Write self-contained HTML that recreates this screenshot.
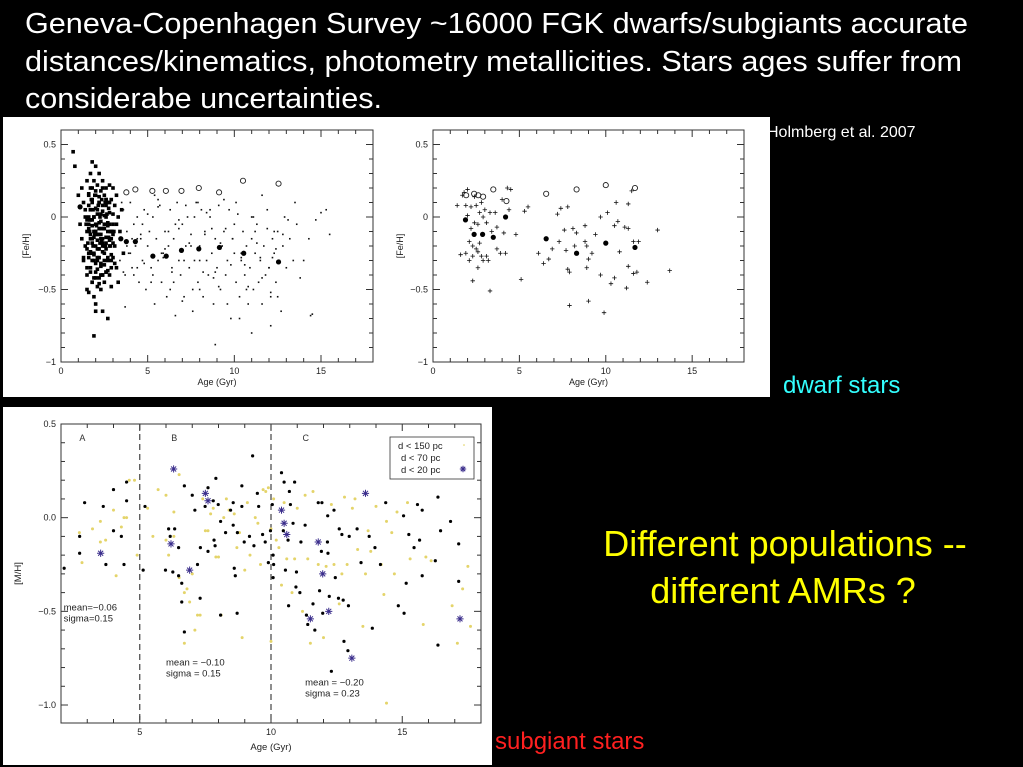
<!DOCTYPE html>
<html><head><meta charset="utf-8"><style>
html,body{margin:0;padding:0;background:#000;}
svg{display:block;}
text{font-family:"Liberation Sans",sans-serif;}
</style></head><body>
<svg id="slide" width="1023" height="767" viewBox="0 0 1023 767" xmlns="http://www.w3.org/2000/svg">
<rect x="0" y="0" width="1023" height="767" fill="#000"/>
<g fill="#fff" font-size="28.5">
<text x="25" y="33" textLength="943" lengthAdjust="spacingAndGlyphs">Geneva-Copenhagen Survey ~16000 FGK dwarfs/subgiants accurate</text>
<text x="25" y="71" textLength="937" lengthAdjust="spacingAndGlyphs">distances/kinematics, photometry metallicities. Stars ages suffer from</text>
<text x="25" y="108" textLength="357" lengthAdjust="spacingAndGlyphs">considerabe uncertainties.</text>
</g>
<rect x="3" y="117" width="767" height="280" fill="#fff"/>
<rect x="3" y="407" width="489" height="358" fill="#fff"/>
<text x="767" y="137" fill="#fff" font-size="16">Holmberg et al. 2007</text>
<text x="783" y="393" fill="#33ffff" font-size="24">dwarf stars</text>
<text x="495" y="749" fill="#ff2020" font-size="24">subgiant stars</text>
<g fill="#ffff00" font-size="36" text-anchor="middle">
<text x="785" y="556">Different populations --</text>
<text x="783" y="603">different AMRs ?</text>
</g>
<g id="p1"></g>
<g id="p2"></g>
<g id="p3"></g>
</svg>
<script>
// ---------- Panel 1 data (Age Gyr, [Fe/H]) ----------
const p1CloudAges = [1.0,1.1,1.2,1.2,1.3,1.3,1.4,1.4,1.5,1.5,1.5,1.6,1.6,1.6,1.6,1.7,1.7,1.7,1.7,1.7,1.8,1.8,1.8,1.8,1.8,1.9,1.9,1.9,1.9,1.9,2.0,2.0,2.0,2.0,2.0,2.0,2.1,2.1,2.1,2.1,2.1,2.2,2.2,2.2,2.2,2.2,2.3,2.3,2.3,2.3,2.3,2.4,2.4,2.4,2.4,2.5,2.5,2.5,2.5,2.6,2.6,2.6,2.6,2.7,2.7,2.7,2.8,2.8,2.8,2.9,2.9,2.9,3.0,3.0,3.0,3.1,3.1,3.2,3.2,3.3,3.3,3.4,3.5,3.6,1.6,1.8,2.0,2.2,2.4,2.6,1.7,1.9,2.1,2.3,2.5,0.8,0.7,1.9,2.0,2.4,2.7,1.5,1.3,2.6,2.9,
1.5,1.6,1.7,1.8,1.9,2.0,2.1,2.2,2.3,2.4,2.5,2.6,2.7,2.8,2.9,3.0,1.5,1.6,1.7,1.8,1.9,2.0,2.1,2.2,2.3,2.4,2.5,2.6,2.7,2.8,2.9,3.0,1.4,1.6,1.8,2.0,2.2,2.4,2.6,2.8,3.0,3.2,1.5,1.7,1.9,2.1,2.3,2.5,2.7,2.9,3.1,1.6,1.8,2.0,2.2,2.4,2.6,2.8,1.7,1.9,2.1,2.3,2.5,2.7,1.8,2.0,2.2,2.4,2.6,1.45,1.65,1.85,2.05,2.25,2.45,2.65,2.85,3.05,1.55,1.75,1.95,2.15,2.35,2.55,2.75,2.95,1.65,1.85,2.05,2.25,2.45,2.65,2.85,1.75,1.95,2.15,2.35,2.55,2.75];
const p1CloudFeh  = [0.15,-0.05,0.2,-0.15,0.1,-0.3,0.0,-0.2,0.25,-0.1,-0.4,0.15,-0.05,-0.25,-0.52,0.3,0.05,-0.12,-0.35,0.2,0.38,0.1,-0.02,-0.18,-0.45,0.25,0.0,-0.1,-0.3,-0.55,0.35,0.15,-0.05,-0.2,-0.38,-0.6,0.22,0.05,-0.12,-0.28,-0.48,0.3,0.1,-0.08,-0.22,-0.42,0.18,0.02,-0.15,-0.32,-0.5,0.25,0.08,-0.2,-0.4,0.15,-0.05,-0.25,-0.45,0.2,0.0,-0.18,-0.38,0.1,-0.1,-0.3,0.22,-0.05,-0.4,0.12,-0.15,-0.35,0.2,-0.05,-0.28,0.08,-0.2,0.15,-0.35,0.0,-0.45,-0.1,0.05,-0.25,0.0,-0.15,-0.1,-0.12,-0.15,-0.05,0.05,-0.25,-0.3,-0.08,-0.2,0.35,0.45,-0.82,-0.65,-0.65,-0.7,-0.5,-0.28,0.12,-0.48,
-0.02,-0.08,-0.15,-0.06,-0.14,-0.1,-0.16,-0.04,-0.12,-0.18,-0.08,-0.14,-0.06,-0.16,-0.1,-0.12,-0.22,-0.28,-0.24,-0.3,-0.26,-0.32,-0.22,-0.28,-0.34,-0.24,-0.3,-0.22,-0.28,-0.2,-0.26,-0.18,0.05,0.08,0.12,0.06,0.1,0.04,0.08,0.03,0.02,-0.05,-0.35,-0.38,-0.42,-0.36,-0.4,-0.33,-0.37,-0.3,-0.32,0.16,0.2,0.18,0.14,0.2,0.12,0.1,-0.02,0.0,0.02,-0.03,0.01,-0.04,-0.45,-0.42,-0.46,-0.4,-0.38,-0.05,-0.1,-0.2,-0.12,-0.18,-0.08,-0.14,-0.2,-0.1,-0.18,-0.25,-0.12,-0.22,-0.16,-0.2,-0.14,-0.1,-0.02,0.05,-0.06,0.0,-0.08,0.02,-0.1,0.12,0.15,0.08,0.12,0.1,0.06];
const p1DotAges = [3.4,3.6,3.7,3.8,3.9,4.0,4.1,4.2,4.3,4.4,4.5,4.6,4.7,4.8,4.9,5.0,5.1,5.2,5.3,5.4,5.5,5.6,5.7,5.8,5.9,6.0,6.1,6.2,6.3,6.4,6.5,6.6,6.7,6.8,6.9,7.0,7.1,7.2,7.3,7.4,7.5,7.6,7.7,7.8,7.9,8.0,8.1,8.2,8.3,8.4,8.5,8.6,8.7,8.8,8.9,9.0,9.1,9.2,9.3,9.4,9.5,9.6,9.7,9.8,9.9,10.0,10.1,10.2,10.3,10.4,10.5,10.6,10.7,10.8,10.9,11.0,11.1,11.2,11.3,11.4,11.5,11.6,11.7,11.8,11.9,12.0,12.1,12.2,12.3,12.4,12.5,12.6,12.7,12.8,12.9,13.0,13.2,13.4,13.6,13.8,14.0,14.3,14.5,14.7,15.0,15.3,15.5,3.5,3.8,4.1,4.4,4.7,5.0,5.3,5.6,5.9,6.2,6.5,6.8,7.1,7.4,7.7,8.0,8.3,8.6,8.9,9.2,9.5,9.8,10.1,10.4,10.7,11.0,11.3,11.6,11.9,12.2,12.5,12.8,13.1,3.6,4.0,4.4,4.8,5.2,5.6,6.0,6.4,6.8,7.2,7.6,8.0,8.4,8.8,9.2,9.6,10.0,10.4,10.8,11.2,11.6,12.0,12.4,3.7,4.2,4.6,5.4,5.8,6.3,6.6,7.0,7.5,7.9,8.2,8.7,9.1,9.4,9.9,10.3,10.6,11.1,11.5,12.1,12.3,8.9,11.0,12.1,14.4,13.5];
const p1DotFeh  = [-0.3,0.05,-0.4,-0.1,-0.25,0.1,-0.35,-0.05,-0.2,0.0,-0.45,-0.15,-0.3,0.05,-0.5,-0.2,-0.1,-0.35,0.0,-0.6,-0.15,-0.3,0.08,-0.45,-0.25,-0.1,-0.55,-0.2,0.05,-0.35,-0.15,-0.68,0.1,-0.3,-0.4,-0.05,-0.55,-0.2,0.0,-0.35,-0.12,-0.65,-0.3,0.1,-0.45,-0.2,0.05,-0.55,-0.1,-0.3,-0.4,0.0,-0.25,-0.6,-0.15,-0.35,0.08,-0.5,-0.2,-0.1,-0.4,-0.3,0.05,-0.7,-0.15,-0.25,-0.45,0.02,-0.55,-0.3,-0.1,-0.4,-0.2,-0.6,-0.35,-0.15,-0.5,-0.25,-0.05,-0.45,-0.3,-0.6,-0.2,-0.4,0.05,-0.35,-0.55,-0.15,-0.25,-0.45,-0.1,-0.3,-0.65,-0.2,0.0,-0.35,-0.15,-0.3,-0.05,-0.42,-0.3,-0.15,-0.67,-0.02,0.03,0.05,-0.12,0.1,-0.2,-0.15,-0.35,-0.05,0.02,-0.4,0.07,-0.28,-0.1,-0.45,-0.02,-0.3,-0.18,0.0,-0.5,-0.12,0.05,-0.38,-0.22,-0.08,-0.33,0.1,-0.25,-0.5,0.0,-0.18,-0.42,-0.08,-0.28,-0.55,-0.12,-0.02,-0.38,-0.25,-0.15,-0.32,-0.45,0.12,-0.22,-0.38,-0.08,0.08,-0.5,-0.3,0.03,-0.42,-0.18,-0.6,-0.05,-0.28,-0.48,-0.1,0.15,-0.35,-0.22,-0.62,-0.4,-0.12,0.15,-0.25,-0.5,-0.05,-0.58,-0.2,0.1,-0.38,-0.08,-0.48,0.12,-0.15,-0.7,-0.33,0.0,-0.28,-0.52,-0.1,-0.88,-0.8,-0.75,-0.68,0.1];
const p1FilledAges = [1.1,3.45,3.77,4.29,5.3,6.07,6.95,7.95,9.14,10.54,12.55];
const p1FilledFeh  = [0.07,-0.15,-0.17,-0.17,-0.27,-0.27,-0.23,-0.22,-0.21,-0.25,-0.31];
const p1OpenAges = [3.77,4.29,5.27,6.05,6.95,7.95,9.12,10.5,12.55];
const p1OpenFeh  = [0.17,0.19,0.18,0.18,0.18,0.2,0.17,0.25,0.23];
// ---------- Panel 2 data ----------
const p2StarAges = [1.4,1.6,1.7,1.8,1.9,1.9,2.0,2.0,2.1,2.1,2.2,2.2,2.3,2.3,2.3,2.4,2.4,2.5,2.5,2.6,2.6,2.6,2.7,2.7,2.8,2.8,2.9,2.9,3.0,3.1,3.1,3.2,3.3,3.3,3.4,3.6,3.7,3.7,3.9,4.0,4.1,4.2,4.3,4.4,4.5,4.8,5.1,5.3,5.5,6.1,6.4,6.7,6.9,7.2,7.3,7.4,7.6,7.7,7.8,7.8,7.9,7.9,8.1,8.2,8.3,8.8,8.8,8.9,8.9,9.0,9.0,9.2,9.4,9.7,9.7,9.9,10.1,10.3,10.5,10.5,10.6,10.7,10.8,11.1,11.2,11.3,11.3,11.3,11.5,11.6,11.6,11.8,11.9,12.4,13.0,13.7];
const p2StarFeh  = [0.08,-0.26,0.15,0.17,-0.25,0.08,0.19,0.01,-0.17,-0.3,0.07,-0.08,-0.2,-0.44,-0.27,0.14,-0.04,-0.22,0.08,-0.05,-0.24,-0.35,0.03,-0.18,-0.27,0.1,-0.3,0.0,0.05,-0.04,-0.27,-0.3,0.03,-0.51,-0.1,0.03,-0.22,-0.07,-0.25,0.12,-0.11,-0.25,0.2,0.05,0.19,-0.12,-0.43,0.04,0.07,-0.25,-0.32,-0.29,-0.22,0.02,-0.17,0.06,-0.09,-0.23,-0.36,0.07,-0.38,-0.61,-0.08,-0.2,-0.11,-0.06,-0.17,-0.2,-0.35,-0.58,-0.29,-0.25,-0.12,-0.4,0.0,-0.66,0.03,-0.46,-0.42,-0.06,0.1,-0.03,-0.24,-0.07,-0.49,0.09,-0.34,-0.08,0.18,-0.39,-0.17,-0.38,-0.17,-0.45,-0.09,-0.37];
const p2FilledAges = [1.88,2.38,2.87,3.49,4.2,6.55,8.31,10.0,11.69];
const p2FilledFeh  = [-0.02,-0.12,-0.12,-0.14,0.0,-0.15,-0.25,-0.18,-0.21];
const p2OpenAges = [1.92,2.38,2.62,2.9,3.49,4.25,6.55,8.31,10.0,11.69];
const p2OpenFeh  = [0.15,0.16,0.15,0.14,0.19,0.11,0.16,0.19,0.22,0.2];
const p12XTicks = [0,5,10,15];
const p12YTicks = [0.5,0,-0.5,-1];
const p12YTickLabels = ["0.5","0","\u22120.5","\u22121"];
// ---------- Panel 3 data (Age Gyr, [M/H]) ----------
const p3BlackAges = [2.12,2.71,2.71,2.9,3.61,3.71,4.0,4.0,4.3,4.4,4.5,4.5,5.13,5.2,5.98,6.1,6.16,6.26,6.33,6.48,6.48,6.6,6.7,6.7,6.6,7.0,7.1,7.2,7.3,7.31,7.49,7.6,7.6,7.8,7.83,7.87,7.99,8.08,7.9,8.08,8.27,8.46,8.56,8.56,8.6,8.64,8.72,8.71,8.89,8.89,8.98,9.18,9.3,9.35,9.48,9.53,9.68,9.78,9.9,9.98,10.05,10.08,10.1,10.08,10.4,10.5,10.47,10.55,10.65,10.67,10.7,10.74,10.84,10.9,10.97,10.95,11.1,11.14,11.3,11.35,11.4,11.6,11.67,11.8,11.85,11.92,11.94,11.97,12.15,12.16,12.17,12.22,12.4,12.45,12.3,12.57,12.6,12.75,12.7,12.78,12.93,12.95,12.98,13.28,13.43,13.74,13.86,13.96,14.17,14.37,14.85,15.05,15.07,15.15,15.25,15.45,15.58,15.66,15.76,15.76,16.26,16.36,16.36,16.46,16.84,17.15,17.15];
const p3BlackMH  = [-0.27,-0.1,-0.19,0.08,0.06,-0.25,0.15,-0.07,-0.1,-0.25,0.19,0.09,-0.28,0.06,-0.28,-0.06,-0.1,-0.29,-0.06,-0.16,-0.31,-0.35,0.17,-0.61,-0.45,0.12,0.04,-0.25,-0.43,-0.16,0.06,0.16,-0.18,0.09,-0.12,-0.15,0.07,-0.02,0.21,-0.52,-0.08,0.04,0.08,-0.04,-0.27,-0.31,-0.08,-0.51,0.17,0.06,-0.13,-0.1,0.33,-0.15,0.13,0.06,-0.09,-0.13,-0.24,-0.07,0.07,-0.2,-0.25,-0.32,0.24,0.19,-0.07,-0.28,-0.12,-0.47,0.14,0.07,-0.03,0.19,-0.29,-0.37,-0.4,-0.13,-0.04,-0.52,-0.57,-0.46,-0.6,0.08,-0.39,-0.18,0.08,-0.51,-0.13,0.01,-0.19,-0.42,0.04,-0.32,-0.82,-0.43,-0.06,-0.44,-0.09,-0.66,-0.71,-0.47,-0.1,-0.06,-0.24,-0.1,-0.59,-0.16,-0.25,0.08,-0.47,0.01,-0.51,-0.35,-0.09,-0.16,0.07,-0.12,0.04,-0.31,-0.23,0.11,-0.68,-0.07,-0.02,-0.14,-0.34];
const p3YellowAges = [2.8,2.7,3.2,3.5,3.5,3.7,4.0,4.1,4.3,4.4,4.5,4.6,4.8,4.9,5.3,5.5,5.7,6.0,6.0,6.1,6.3,6.3,6.5,6.5,6.7,6.7,6.8,6.9,7.0,7.1,7.2,7.3,7.4,7.5,7.6,7.7,7.8,7.9,8.0,8.1,8.2,8.3,8.4,8.6,8.7,8.8,8.9,9.0,9.1,9.2,9.4,9.5,9.6,9.7,9.8,9.9,10.0,10.0,10.1,10.2,10.3,10.4,10.5,10.6,10.8,10.9,11.0,11.2,11.3,11.4,11.5,11.6,11.8,12.0,12.1,12.3,12.4,12.6,12.7,12.8,12.9,13.1,13.2,13.3,13.5,13.6,13.7,13.8,14.0,14.2,14.3,14.4,14.4,14.6,14.7,14.8,15.2,15.3,15.8,15.9,16.1,16.9,17.1,17.3,17.5,17.6];
const p3YellowMH  = [-0.24,-0.08,-0.06,-0.02,-0.13,-0.12,0.04,-0.31,-0.05,0.0,0.0,0.2,0.2,-0.2,0.05,-0.1,0.15,0.12,-0.12,-0.2,0.03,-0.1,0.23,-0.32,-0.4,-0.67,-0.38,-0.45,-0.3,-0.6,-0.52,-0.52,0.1,-0.07,-0.07,0.02,0.05,-0.21,-0.21,-0.52,0.0,0.1,0.04,0.02,-0.16,-0.08,-0.64,-0.28,0.08,-0.2,0.0,-0.03,-0.25,0.15,0.14,0.16,-0.06,-0.66,0.1,-0.12,-0.16,-0.36,0.08,-0.22,-0.4,-0.22,0.05,-0.5,0.12,-0.22,-0.67,0.14,-0.25,-0.64,-0.26,0.07,-0.25,-0.46,-0.3,0.11,-0.25,0.05,0.1,-0.17,-0.58,-0.3,-0.07,-0.18,0.06,-0.25,-0.41,-0.02,-0.99,-0.08,-0.3,0.03,0.08,-0.22,-0.57,-0.21,-0.23,-0.47,-0.67,-0.38,-0.26,-0.58];
const p3StarAges = [3.51,6.29,6.19,6.9,7.5,7.6,10.4,10.5,10.6,11.8,11.97,12.2,11.5,13.08,13.6,17.2];
const p3StarMH  = [-0.19,0.26,-0.14,-0.28,0.13,0.09,0.04,-0.03,-0.09,-0.13,-0.3,-0.5,-0.54,-0.75,0.13,-0.54];
const p3XTicks = [5,10,15];
const p3YTicks = [0.5,0,-0.5,-1];
const p3YTickLabels = ["0.5","0.0","\u22120.5","\u22121.0"];
const p3Dividers = [5,10];
const p3Regions = ["A","B","C"];
const p3RegionAges = [2.7,6.2,11.2];
const p3StatLines = [["mean=\u22120.06","sigma=0.15"],["mean = \u22120.10","sigma = 0.15"],["mean = \u22120.20","sigma = 0.23"]];
const p3StatAges = [2.1,6.0,11.3];
const p3StatMH = [-0.495,-0.79,-0.895];

const NS = "http://www.w3.org/2000/svg";
function mk(parent, tag, attrs){
  const e = document.createElementNS(NS, tag);
  for (const k in attrs) e.setAttribute(k, attrs[k]);
  parent.appendChild(e);
  return e;
}
function scale(d0,d1,r0,r1){ return v => r0 + (v-d0)/(d1-d0)*(r1-r0); }

function frame(g, L, T, R, B, xs, ys, xMin, xMax, xMinor, yMin, yMax, yMinor, xTicks, yTicks, yLabels, fontFam, fs){
  const f = mk(g,'rect',{x:L,y:T,width:R-L,height:B-T,fill:'none',stroke:'#333','stroke-width':1});
  
  
  for (let v = Math.ceil(xMin/xMinor)*xMinor; v <= xMax+1e-9; v += xMinor){
    const major = xTicks.some(t => Math.abs(t-v) < 1e-6);
    const len = major ? 7 : 4, x = xs(v);
    mk(g,'line',{x1:x,y1:B,x2:x,y2:B-len,stroke:'#333'});
    mk(g,'line',{x1:x,y1:T,x2:x,y2:T+len,stroke:'#333'});
  }
  for (let i = Math.ceil(yMin/yMinor); i*yMinor <= yMax+1e-9; i++){
    const v = i*yMinor;
    const major = yTicks.some(t => Math.abs(t-v) < 1e-6);
    const len = major ? 7 : 4, y = ys(v);
    mk(g,'line',{x1:L,y1:y,x2:L+len,y2:y,stroke:'#333'});
    mk(g,'line',{x1:R,y1:y,x2:R-len,y2:y,stroke:'#333'});
  }
  xTicks.forEach(t => {
    const tx = mk(g,'text',{x:xs(t),y:B+12,'text-anchor':'middle','font-size':fs,fill:'#222','font-family':fontFam});
    tx.textContent = String(t);
    
    
  });
  yTicks.forEach((t,i) => {
    const tx = mk(g,'text',{x:L-5,y:ys(t)+3,'text-anchor':'end','font-size':fs,fill:'#222','font-family':fontFam});
    tx.textContent = yLabels[i];
    
    
  });
}
function starPath(x,y,r){
  return `M${x-r},${y}H${x+r}M${x},${y-r}V${y+r}M${x-r*0.7},${y-r*0.7}L${x+r*0.7},${y+r*0.7}M${x-r*0.7},${y+r*0.7}L${x+r*0.7},${y-r*0.7}`;
}
function plusPath(x,y,r){
  return `M${x-r},${y}H${x+r}M${x},${y-r}V${y+r}`;
}

// Panel 1
(function(){
  const g = document.getElementById('p1');
  const L=61,T=130,R=373,B=362;
  const xs = scale(0,18,L,R), ys = scale(-1,0.6,B,T);
  frame(g,L,T,R,B,xs,ys,0,18,1,-1,0.6,0.1,p12XTicks,p12YTicks,p12YTickLabels,'"Liberation Serif",serif',9);
  p1CloudAges.forEach((a,i) => {
    const r = mk(g,'rect',{x:xs(a)-1.8,y:ys(p1CloudFeh[i])-1.8,width:3.6,height:3.6,fill:'#000'});
    
    
  });
  p1DotAges.forEach((a,i) => {
    const r = mk(g,'rect',{x:xs(a)-0.8,y:ys(p1DotFeh[i])-0.8,width:1.6,height:1.6,fill:'#111'});
    
    
  });
  p1FilledAges.forEach((a,i) => {
    const c = mk(g,'circle',{cx:xs(a),cy:ys(p1FilledFeh[i]),r:2.6,fill:'#000'});
    
    
  });
  p1OpenAges.forEach((a,i) => {
    const c = mk(g,'circle',{cx:xs(a),cy:ys(p1OpenFeh[i]),r:2.6,fill:'none',stroke:'#222','stroke-width':0.9});
    
    
  });
  const xl = mk(g,'text',{x:(L+R)/2,y:B+23,'text-anchor':'middle','font-size':9,fill:'#222','font-family':'"Liberation Serif",serif'});
  xl.textContent='Age (Gyr)';
  
  
  const yl = mk(g,'text',{x:0,y:0,'text-anchor':'middle','font-size':9,fill:'#222','font-family':'"Liberation Serif",serif',transform:`translate(${L-32},${(T+B)/2}) rotate(-90)`});
  yl.textContent='[Fe/H]';
  
  
})();

// Panel 2
(function(){
  const g = document.getElementById('p2');
  const L=433,T=130,R=744,B=362;
  const xs = scale(0,18,L,R), ys = scale(-1,0.6,B,T);
  frame(g,L,T,R,B,xs,ys,0,18,1,-1,0.6,0.1,p12XTicks,p12YTicks,p12YTickLabels,'"Liberation Serif",serif',9);
  p2StarAges.forEach((a,i) => {
    const p = mk(g,'path',{d:plusPath(xs(a),ys(p2StarFeh[i]),2.2),stroke:'#111','stroke-width':0.8,fill:'none'});
    
    
  });
  p2FilledAges.forEach((a,i) => {
    const c = mk(g,'circle',{cx:xs(a),cy:ys(p2FilledFeh[i]),r:2.6,fill:'#000'});
    
    
  });
  p2OpenAges.forEach((a,i) => {
    const c = mk(g,'circle',{cx:xs(a),cy:ys(p2OpenFeh[i]),r:2.6,fill:'none',stroke:'#222','stroke-width':0.9});
    
    
  });
  const xl = mk(g,'text',{x:(L+R)/2,y:B+23,'text-anchor':'middle','font-size':9,fill:'#222','font-family':'"Liberation Serif",serif'});
  xl.textContent='Age (Gyr)';
  
  
  const yl = mk(g,'text',{x:0,y:0,'text-anchor':'middle','font-size':9,fill:'#222','font-family':'"Liberation Serif",serif',transform:`translate(${L-30},${(T+B)/2}) rotate(-90)`});
  yl.textContent='[Fe/H]';
  
  
})();

// Panel 3
(function(){
  const g = document.getElementById('p3');
  const L=61,T=424,R=481,B=723;
  const xs = scale(2,18,L,R), ys = scale(-1.096,0.5,B,T);
  frame(g,L,T,R,B,xs,ys,2,18,1,-1.09,0.5,0.1,p3XTicks,p3YTicks,p3YTickLabels,'"Liberation Sans",sans-serif',9);
  p3Dividers.forEach(d => {
    const l = mk(g,'line',{x1:xs(d),y1:T,x2:xs(d),y2:B,stroke:'#444','stroke-width':1.2,'stroke-dasharray':'6,4'});
    
    
  });
  p3Regions.forEach((r,i) => {
    const t = mk(g,'text',{x:xs(p3RegionAges[i]),y:ys(0.41),'font-size':9,fill:'#333'});
    t.textContent = r;
    
    
  });
  p3YellowAges.forEach((a,i) => {
    const c = mk(g,'circle',{cx:xs(a),cy:ys(p3YellowMH[i]),r:1.5,fill:'#e4d46a'});
    
    
  });
  p3BlackAges.forEach((a,i) => {
    const c = mk(g,'circle',{cx:xs(a),cy:ys(p3BlackMH[i]),r:1.6,fill:'#000'});
    
    
  });
  p3StarAges.forEach((a,i) => {
    const p = mk(g,'path',{d:starPath(xs(a),ys(p3StarMH[i]),3.6),stroke:'#3b2e8c','stroke-width':1,fill:'none'});
    
    
  });
  p3StatLines.forEach((lines,i) => {
    lines.forEach((s,j) => {
      const t = mk(g,'text',{x:xs(p3StatAges[i]),y:ys(p3StatMH[i])+j*11,'font-size':9.5,fill:'#222'});
      t.textContent = s;
      
      
    });
  });
  const lg = mk(g,'g',{});
  
  
  mk(lg,'rect',{x:390,y:437,width:84,height:42,fill:'#fff',stroke:'#333','stroke-width':0.8});
  const legTxt = ["d < 150 pc","d < 70 pc","d < 20 pc"];
  legTxt.forEach((s,j) => {
    const t = mk(lg,'text',{x:j==0?398:401,y:449+j*12,'font-size':9.5,fill:'#222'});
    t.textContent = s;
    
    
  });
  mk(lg,'circle',{cx:464,cy:445,r:0.8,fill:'#e0cf55'});
  mk(lg,'path',{d:starPath(463,469,3.2),stroke:'#3b2e8c','stroke-width':1.1,fill:'none'});
  const xl = mk(g,'text',{x:(L+R)/2,y:B+27,'text-anchor':'middle','font-size':9.5,fill:'#222'});
  xl.textContent='Age (Gyr)';
  
  
  const yl = mk(g,'text',{x:0,y:0,'text-anchor':'middle','font-size':9.5,fill:'#222',transform:`translate(${L-40},${(T+B)/2}) rotate(-90)`});
  yl.textContent='[M/H]';
  
  
})();
</script>
</body></html>
